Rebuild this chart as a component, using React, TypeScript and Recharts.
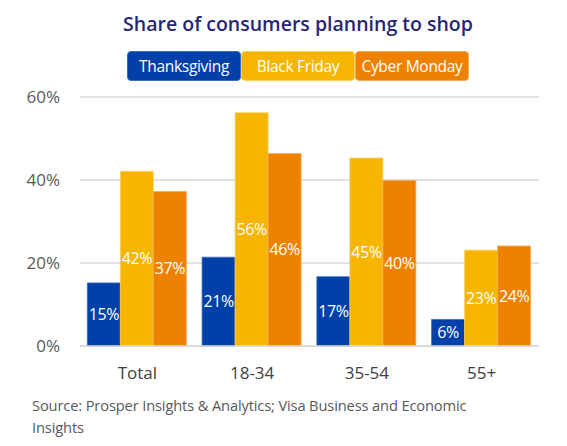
import React from "react";
import { BarChart, Bar, XAxis, YAxis, CartesianGrid, LabelList } from "recharts";

const categories = ["Total", "18-34", "35-54", "55+"];
const thanksgiving = [15.2, 21.4, 16.7, 6.4];
const blackFriday = [42.1, 56.2, 45.3, 23.1];
const cyberMonday = [37.2, 46.4, 39.9, 24.1];
const yTicks = [0, 20, 40, 60];

const SERIES = [
  { key: "thanksgiving", label: "Thanksgiving", color: "#0040A8", edge: "#3a6cc0" },
  { key: "blackFriday", label: "Black Friday", color: "#F5B500", edge: "#f9d060" },
  { key: "cyberMonday", label: "Cyber Monday", color: "#EE8200", edge: "#f4ab5c" },
];

const data = categories.map((name, i) => ({
  name,
  thanksgiving: thanksgiving[i],
  blackFriday: blackFriday[i],
  cyberMonday: cyberMonday[i],
}));

const FONT = "'Open Sans', 'Noto Sans', sans-serif";

export default function App() {
  return (
    <div
      style={{
        position: "absolute",
        left: 0,
        top: 0,
        width: 567,
        height: 446,
        background: "#fff",
        fontFamily: FONT,
      }}
    >
      <div
        style={{
          position: "absolute",
          left: 0,
          width: 596,
          top: 10,
          textAlign: "center",
          fontSize: 19.5,
          fontWeight: 600,
          color: "#262673",
        }}
      >
        Share of consumers planning to shop
      </div>

      {/* Legend as coloured boxes */}
      <div style={{ position: "absolute", left: 127, top: 51, display: "flex" }}>
        {SERIES.map((s) => (
          <div
            key={s.key}
            style={{
              width: 114,
              height: 30,
              background: s.color,
              borderRadius: 4,
              color: "#fff",
              fontSize: 15.5,
              letterSpacing: -0.3,
              display: "flex",
              alignItems: "center",
              justifyContent: "center",
              boxSizing: "border-box",
              border: "1px solid " + s.edge,
            }}
          >
            {s.label}
          </div>
        ))}
      </div>

      <div style={{ position: "absolute", left: 0, top: 0 }}>
        <BarChart
          width={567}
          height={386}
          data={data}
          margin={{ top: 97, right: 28, left: 0, bottom: 0 }}
          barCategoryGap="6.4%"
          barGap={0}
        >
          <CartesianGrid vertical={false} stroke="#d9d9d9" strokeWidth={1.5} />
          <XAxis
            dataKey="name"
            tickLine={false}
            axisLine={{ stroke: "#d9d9d9", strokeWidth: 1.5 }}
            tick={{ fontSize: 17, fill: "#404040", fontFamily: FONT }}
            tickMargin={15}
            height={40}
          />
          <YAxis
            domain={[0, 60]}
            ticks={yTicks}
            tickFormatter={(v) => `${v}%`}
            tickLine={false}
            axisLine={false}
            width={80}
            tickMargin={14}
            tick={{ fontSize: 17, fill: "#595959", fontFamily: FONT }}
          />
          {SERIES.map((s) => (
            <Bar
              key={s.key}
              dataKey={s.key}
              fill={s.color}
              stroke={s.edge}
              strokeWidth={0.8}
              isAnimationActive={false}
            >
              <LabelList
                dataKey={s.key}
                position="center"
                formatter={(v: number) => `${Math.round(v)}%`}
                fill="#fff"
                style={{ fontSize: 16, fontFamily: FONT, letterSpacing: -0.4 }}
              />
            </Bar>
          ))}
        </BarChart>
      </div>

      <div
        style={{
          position: "absolute",
          left: 32,
          top: 394,
          width: 500,
          fontSize: 14.7,
          letterSpacing: -0.15,
          lineHeight: "22px",
          color: "#595959",
        }}
      >
        Source: Prosper Insights &amp; Analytics; Visa Business and Economic
        <br />
        Insights
      </div>
    </div>
  );
}
